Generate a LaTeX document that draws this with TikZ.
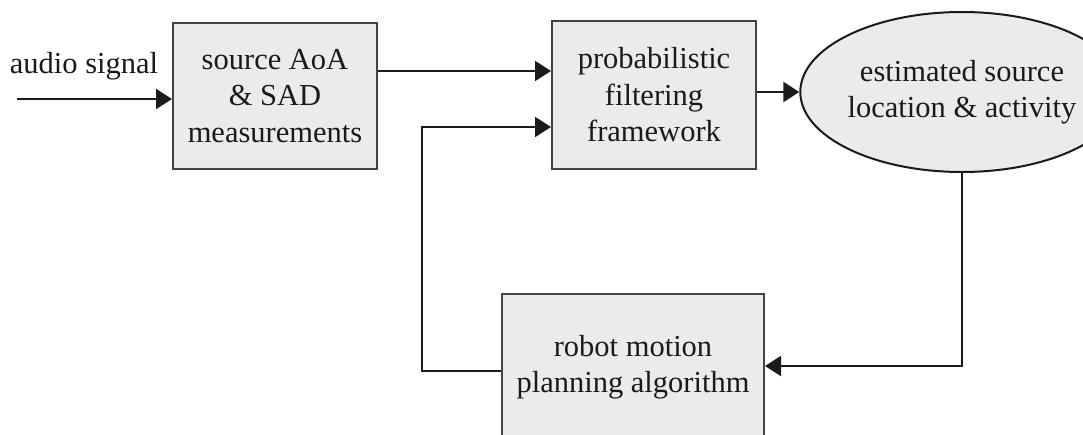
\documentclass[tikz,border=0pt]{standalone}
\usepackage{fontspec}
\setmainfont{Liberation Serif}
\usetikzlibrary{arrows.meta,shapes.geometric}
\definecolor{boxfill}{HTML}{EBEBEB}
\definecolor{boxline}{HTML}{444444}
\definecolor{wire}{HTML}{1A1A1A}
\definecolor{txt}{HTML}{1A1A1A}
\begin{document}
\begin{tikzpicture}[x=1pt,y=-1pt,
  every node/.style={font=\fontsize{30.5}{36.5}\selectfont, text=txt, align=center, inner sep=0pt},
  blockbox/.style={draw=boxline, fill=boxfill, line width=2pt},
  wireline/.style={draw=wire, line width=2pt},
  arr/.style={wireline, -{Triangle[length=16pt,width=20pt]}}]
\useasboundingbox (0,0) rectangle (1083,434);
\clip (0,0) rectangle (1083,434);
\node[blockbox, minimum width=204pt, minimum height=146pt] (b1) at (275,96) {source AoA\\ \& SAD\\ measurements};
\node[blockbox, minimum width=204pt, minimum height=148pt] (b2) at (654,95) {probabilistic\\ filtering\\ framework};
\node[blockbox, draw=wire, ellipse, minimum width=238pt, minimum height=160pt] (el) at (962,92) {estimated source\\ location \& activity};
\node[blockbox, minimum width=262pt, minimum height=146pt] (b3) at (633,367) {robot motion\\ planning algorithm};
\node (lab) at (84,66) {audio signal};
\coordinate (in) at (17,99);
\coordinate (c1) at (422,371);
\coordinate (c2) at (422,127);
\coordinate (c3) at (0,71);
\coordinate (c4) at (0,366);
\draw[arr] (in) -- (b1.west|-in);
\draw[arr] (b1.east|-c3) -- (b2.west|-c3);
\draw[arr] (b2.east|-el.center) -- (el.west);
\draw[arr] (el.south) |- (b3.east|-c4);
\draw[arr] (b3.west|-c1) -- (c1) -- (c2) -- (b2.west|-c2);
\end{tikzpicture}
\end{document}
